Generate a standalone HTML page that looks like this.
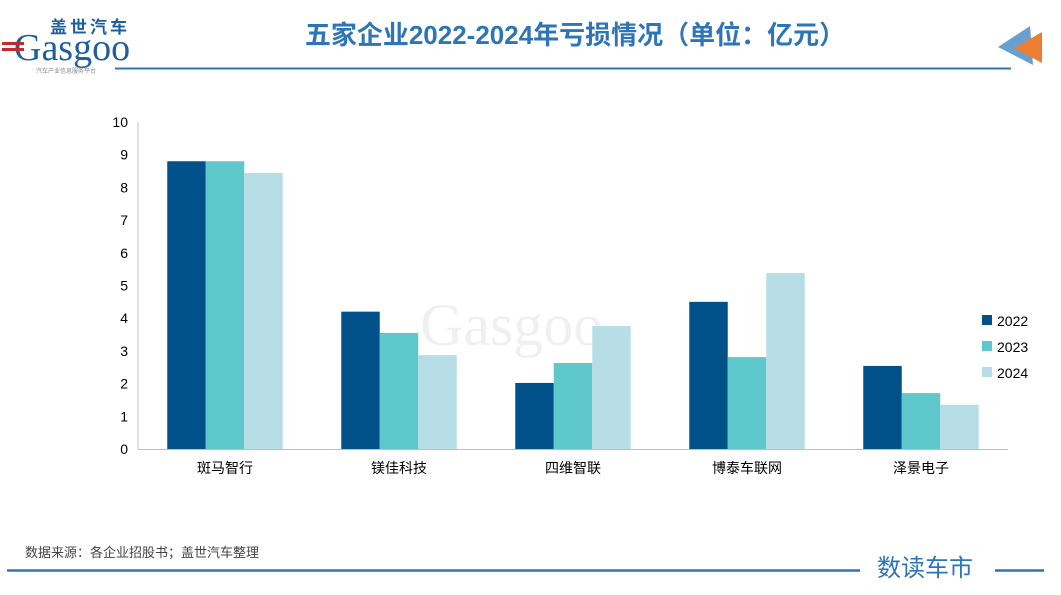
<!DOCTYPE html>
<html><head><meta charset="utf-8"><style>
body{margin:0;width:1061px;height:590px;background:#fff;overflow:hidden;font-family:"Liberation Sans","Noto Sans CJK SC",sans-serif;}
</style></head><body>
<svg width="1061" height="590" xmlns="http://www.w3.org/2000/svg" font-family="Liberation Sans, Noto Sans CJK SC, sans-serif">
<g>
<text x="50" y="33" font-size="17" font-weight="bold" fill="#1f5f9c" letter-spacing="3">盖世汽车</text>
<text x="14" y="60" font-size="38" fill="#1f5f9c" font-family="Liberation Serif, serif">Gasgoo</text>
<rect x="2" y="42" width="22" height="3" fill="#c8282d"/><rect x="2" y="48" width="22" height="3" fill="#c8282d"/>
<text x="36" y="73" font-size="6" fill="#888">汽车产业信息服务平台</text>
</g>
<text x="575" y="44" font-size="26" font-weight="bold" fill="#2e75b6" text-anchor="middle">五家企业2022-2024年亏损情况（单位：亿元）</text>
<line x1="115" y1="68.5" x2="1011" y2="68.5" stroke="#2e75b6" stroke-width="2"/>
<polygon points="998,47 1030,26 1033,65" fill="#6a9fd2"/>
<polygon points="1014,48 1042,32 1042,63" fill="#ed7d31"/>
<text x="420" y="345" font-size="60" fill="#000" fill-opacity="0.06" font-family="Liberation Serif, serif">Gasgoo</text>
<g id="plot"></g>
<g id="legend"></g>
<text x="25" y="557" font-size="13" fill="#444">数据来源：各企业招股书；盖世汽车整理</text>
<line x1="7" y1="570.5" x2="860" y2="570.5" stroke="#2e75b6" stroke-width="2.5"/>
<text x="877" y="576" font-size="24" fill="#2e75b6">数读车市</text>
<line x1="995" y1="570.5" x2="1044" y2="570.5" stroke="#2e75b6" stroke-width="2.5"/>
</svg>
<script>
const categories=["斑马智行","镁佳科技","四维智联","博泰车联网","泽景电子"];
const series2022=[8.8,4.2,2.02,4.5,2.54];
const series2023=[8.8,3.55,2.63,2.81,1.71];
const series2024=[8.44,2.87,3.76,5.38,1.35];
const seriesNames=["2022","2023","2024"];
const yTicks=[0,1,2,3,4,5,6,7,8,9,10];
const colors=["#00508a","#5fc8cc","#b7dde6"];
const NS="http://www.w3.org/2000/svg";
const x0=138,x1=1008,y0=449,yTop=122,yMax=10;
const y=v=>y0-(y0-yTop)*v/yMax;
const slot=(x1-x0)/categories.length;
const bw=38.5;
const plot=document.getElementById('plot');
function mk(tag,attrs,parent){const e=document.createElementNS(NS,tag);for(const k in attrs)e.setAttribute(k,attrs[k]);parent.appendChild(e);return e;}
yTicks.forEach(t=>{const e=mk('text',{x:x0-10,y:y(t)+5,'font-size':14,fill:'#000','text-anchor':'end'},plot);e.textContent=t;

});
const all=[series2022,series2023,series2024];
categories.forEach((c,i)=>{const cx=x0+slot*(i+0.5);
all.forEach((s,j)=>{const r=mk('rect',{x:cx-1.5*bw+j*bw,y:y(s[i]),width:bw,height:y0-y(s[i]),fill:colors[j]},plot);

});
const t=mk('text',{x:cx,y:y0+24,'font-size':14,fill:'#000','text-anchor':'middle'},plot);t.textContent=c;

});
const ax=mk('line',{x1:x0,y1:yTop,x2:x0,y2:y0,stroke:'#bfbfbf'},plot);


const bx=mk('line',{x1:x0,y1:y0+.5,x2:x1,y2:y0+.5,stroke:'#bfbfbf'},plot);


const lg=document.getElementById('legend');
seriesNames.forEach((n,j)=>{const g=mk('g',{},lg);


mk('rect',{x:982,y:315+j*26,width:10,height:10,fill:colors[j]},g);
const t=mk('text',{x:997,y:326+j*26,'font-size':14,fill:'#000'},g);t.textContent=n;});
</script>
</body></html>
